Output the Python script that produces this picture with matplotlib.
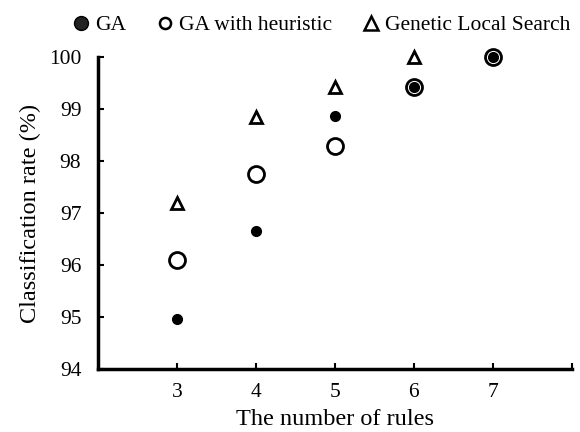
import matplotlib
matplotlib.use("Agg")
import matplotlib.pyplot as plt
from matplotlib.lines import Line2D

plt.rcParams['font.family'] = ['Liberation Serif', 'DejaVu Serif']

rules = [3, 4, 5, 6, 7]
ga = [94.96, 96.65, 98.87, 99.42, 100.0]
ga_heur = [96.1, 97.75, 98.29, 99.42, 100.0]
gls_rules = [3, 4, 5, 6]
gls = [97.19, 98.85, 99.42, 100.0]

x_ticks = [3, 4, 5, 6, 7, 8]
x_ticklabels = ['3', '4', '5', '6', '7', '']
y_ticks = [94, 95, 96, 97, 98, 99, 100]

fig = plt.figure(figsize=(5.8, 4.32), dpi=100)
ax = fig.add_axes([0.169, 0.146, 0.817, 0.722])

ax.plot(gls_rules, gls, linestyle='none', marker='^', markersize=9,
        markerfacecolor='white', markeredgecolor='black', markeredgewidth=2, clip_on=False)
ax.plot(rules, ga_heur, linestyle='none', marker='o', markersize=11.5,
        markerfacecolor='white', markeredgecolor='black', markeredgewidth=2, clip_on=False)
ax.plot(rules, ga, linestyle='none', marker='o', markersize=7,
        markerfacecolor='black', markeredgecolor='black', clip_on=False)

ax.set_xlim(2, 8)
ax.set_ylim(94, 100)
ax.set_xticks(x_ticks)
ax.set_xticklabels(x_ticklabels)
ax.set_yticks(y_ticks)
ax.tick_params(direction='in', length=4, width=1.5, labelsize=15.5)
ax.tick_params(axis='y', pad=12)
ax.tick_params(axis='x', pad=10)
for s in ['top', 'right']:
    ax.spines[s].set_visible(False)
for s in ['left', 'bottom']:
    ax.spines[s].set_linewidth(2.5)

ax.set_xlabel('The number of rules', fontsize=17.5, labelpad=5)
ax.set_ylabel('Classification rate (%)', fontsize=17.5, labelpad=6)

handles = [
    Line2D([], [], linestyle='none', marker='o', markersize=10, markerfacecolor='#222222',
           markeredgecolor='black'),
    Line2D([], [], linestyle='none', marker='o', markersize=8, markerfacecolor='white',
           markeredgecolor='black', markeredgewidth=1.8),
    Line2D([], [], linestyle='none', marker='^', markersize=10, markerfacecolor='white',
           markeredgecolor='black', markeredgewidth=1.8),
]
fig.legend(handles, ['GA', 'GA with heuristic', 'Genetic Local Search'],
           loc='upper right', bbox_to_anchor=(1.013, 1.005), ncol=3, frameon=False,
           fontsize=15.5, handletextpad=0.15, columnspacing=1.3, handlelength=1.0,
           borderpad=0.3)

fig.savefig('out.png', dpi=100)
